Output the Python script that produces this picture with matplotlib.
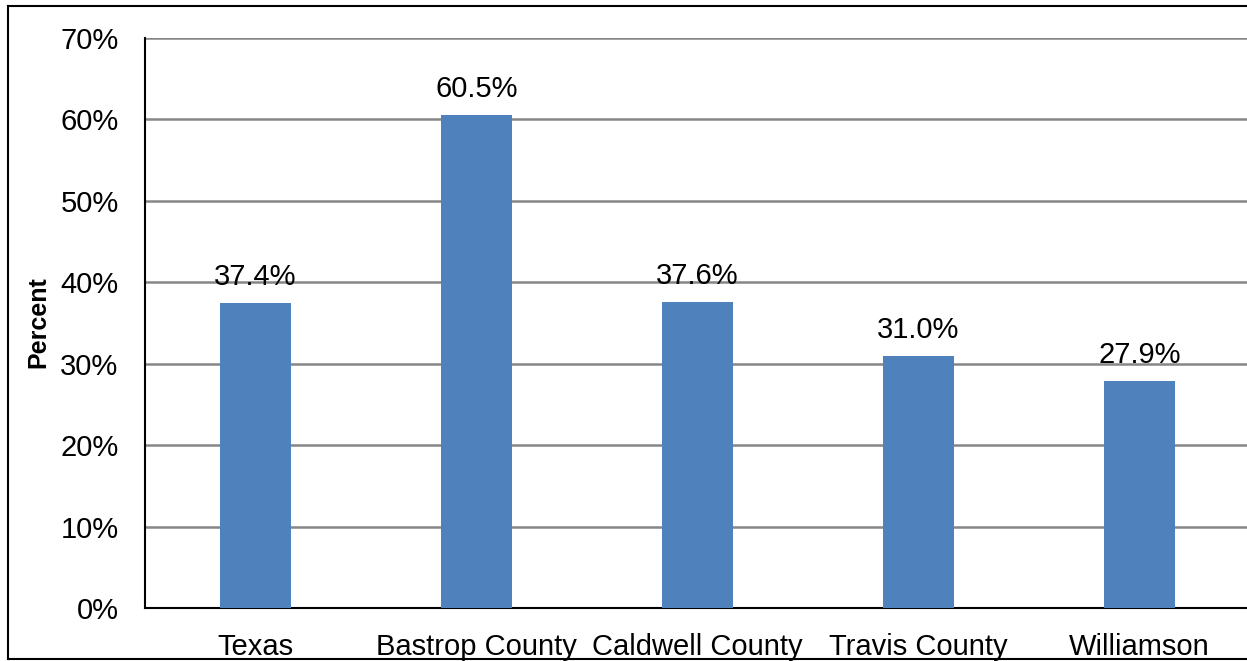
import matplotlib.pyplot as plt
from matplotlib.lines import Line2D

plt.rcParams['font.family'] = ['Liberation Sans', 'DejaVu Sans']

# Data
categories = ['Texas', 'Bastrop County', 'Caldwell County', 'Travis County', 'Williamson']
values = [37.4, 60.5, 37.6, 31.0, 27.9]
yticks = [0, 10, 20, 30, 40, 50, 60, 70]

fig = plt.figure(figsize=(12.47, 6.61), dpi=100)
ax = fig.add_axes([145 / 1247, 1 - 608 / 661, 1105 / 1247, 570 / 661])

x = range(len(categories))
bars = ax.bar(x, values, width=0.317, color='#4F81BD', zorder=3)

for xi, v in zip(x, values):
    ax.annotate(f'{v:.1f}%', (xi, v), xytext=(0, 13), textcoords='offset points',
                ha='center', va='baseline', fontsize=21)

ax.set_xlim(-0.5, len(categories) - 0.5)
ax.set_ylim(0, 70)
ax.set_yticks(yticks)
ax.set_yticklabels([f'{t}%' for t in yticks])
ax.set_xticks(list(x))
ax.set_xticklabels(categories)
ax.tick_params(axis='both', length=0, labelsize=21)
ax.tick_params(axis='y', pad=19)
ax.tick_params(axis='x', pad=18)

ax.yaxis.grid(True, color='#868686', linewidth=1.8, zorder=0)
ax.set_axisbelow(True)
for side in ['top', 'right']:
    ax.spines[side].set_visible(False)
ax.spines['left'].set_linewidth(1.5)
ax.spines['bottom'].set_linewidth(1.5)

fig.text(38 / 1247, 1 - 322 / 661, 'Percent', rotation=90, fontsize=18,
         fontweight='bold', ha='center', va='center')

# outer border of the chart area
fig.add_artist(Line2D([8 / 1247, 8 / 1247], [1 - 6 / 661, 1 - 659 / 661],
                      color='black', linewidth=1.5, transform=fig.transFigure))
fig.add_artist(Line2D([8 / 1247, 1], [1 - 6 / 661, 1 - 6 / 661],
                      color='black', linewidth=1.5, transform=fig.transFigure))
fig.add_artist(Line2D([8 / 1247, 1], [1 - 659 / 661, 1 - 659 / 661],
                      color='black', linewidth=1.5, transform=fig.transFigure))

fig.savefig('out.png', dpi=100)
